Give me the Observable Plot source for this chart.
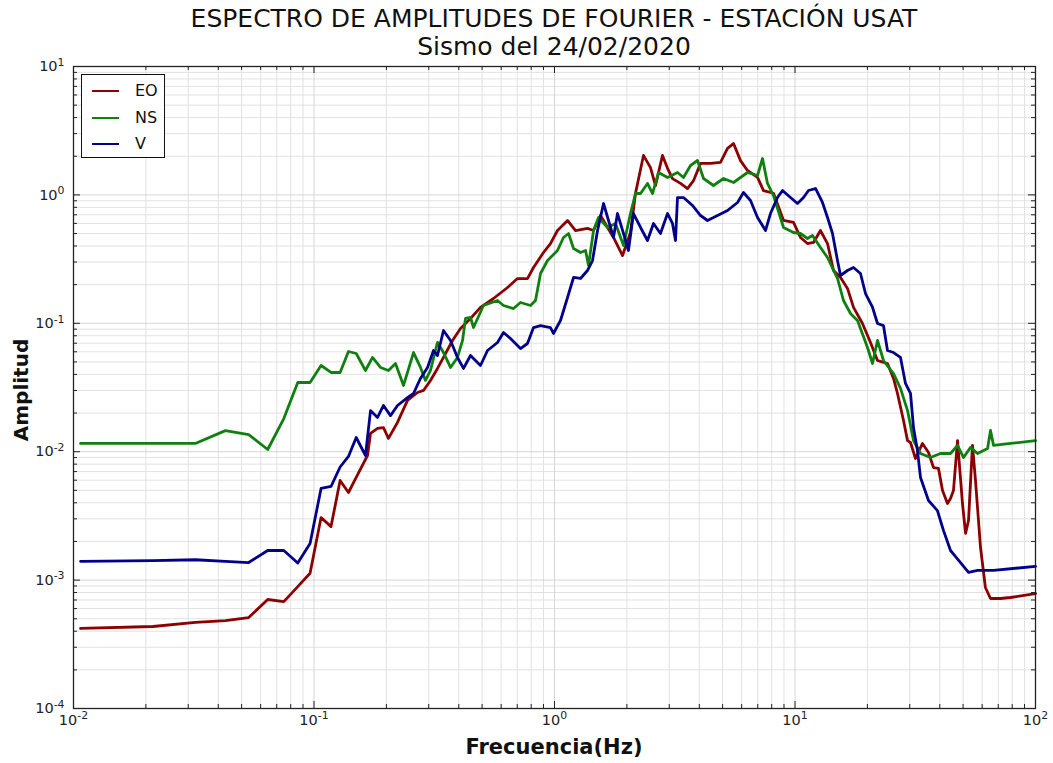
<!DOCTYPE html>
<html><head><meta charset="utf-8">
<script src="https://cdn.jsdelivr.net/npm/d3@7"></script>
<script src="https://cdn.jsdelivr.net/npm/@observablehq/plot@0.6"></script>
<style>
body{margin:0;background:#fff;font-family:"DejaVu Sans",sans-serif;}
#wrap{position:relative;width:1053px;height:763px;overflow:hidden;background:#fff;}
.title{position:absolute;left:73px;width:962px;text-align:center;font-size:25px;color:#111;line-height:28px;z-index:2;}
#chart{position:absolute;left:0;top:40px;z-index:1;}
#legend{position:absolute;left:81px;top:74px;width:84px;height:84px;border:1.3px solid #111;background:#fff;box-sizing:border-box;z-index:3;}
.li{position:absolute;left:10px;height:20px;font-size:16px;color:#111;}
.li span.sw{position:absolute;left:0;top:9px;width:27px;height:0;border-top:2.8px solid;}
.li span.tx{position:absolute;left:43px;top:0;line-height:20px;}
#xl{position:absolute;left:73px;width:962px;top:735px;text-align:center;font-weight:bold;font-size:21px;color:#111;z-index:2;}
#yl{position:absolute;left:21px;top:390px;transform:translate(-50%,-50%) rotate(-90deg);font-weight:bold;font-size:20px;color:#111;white-space:nowrap;z-index:2;}
</style></head><body>
<div id="wrap">
<div class="title" style="top:5px">ESPECTRO DE AMPLITUDES DE FOURIER - ESTACIÓN USAT</div>
<div class="title" style="top:33px">Sismo del 24/02/2020</div>
<div id="chart"></div>
<div id="legend"></div>
<div id="xl">Frecuencia(Hz)</div>
<div id="yl">Amplitud</div>
</div>
<script>
// ---- data (Hz, amplitude) ----
const eoFreq = [0.0107,0.0214,0.0321,0.0428,0.0535,0.0642,0.0749,0.0856,0.0963,0.107,0.1177,0.1284,0.1391,0.1498,
0.1669,0.1718,0.1837,0.1945,0.204,0.2224,0.2448,0.2694,0.2853,0.305,0.3262,0.3455,0.3767,0.4066,0.4474,
0.4923,0.5577,0.6377,0.7018,0.772,0.818,0.900,0.962,1.029,1.133,1.223,1.371,1.453,1.553,1.759,1.918,2.07,2.172,
2.344,2.507,2.63,2.812,2.951,3.094,3.342,3.573,3.784,4.047,4.453,4.9,5.241,5.551,5.935,6.346,6.985,7.396,
8.14,8.96,9.86,10.54,11.27,11.94,12.76,13.65,14.46,15.46,16.53,17.51,19.08,20.6,22.03,24.24,25.68,26.68,28.26,29.37,
30.22,31.7,33.89,35.9,37.65,39.5,41.06,43.06,44.32,45.6,47.4,49.7,51.2,52.66,54.7,56.3,59.06,61.9,65.0,71.5,78.7,100];
const eoAmp = [0.00042,0.000435,0.000468,0.000484,0.000511,0.000706,0.00068,0.00089,0.00113,0.00307,0.00261,0.00597,0.00481,0.0063,
0.00934,0.0139,0.0152,0.0154,0.0127,0.0169,0.0251,0.0289,0.0300,0.0359,0.0445,0.0542,0.0735,0.0911,0.109,
0.133,0.156,0.190,0.223,0.223,0.272,0.356,0.418,0.528,0.632,0.528,0.548,0.528,0.691,0.466,0.337,0.510,1.03,
2.03,1.63,1.18,2.03,1.61,1.34,1.23,1.12,1.29,1.76,1.76,1.79,2.30,2.51,1.85,1.55,1.37,1.08,
1.03,0.632,0.61,0.466,0.418,0.426,0.528,0.418,0.258,0.227,0.187,0.133,0.0996,0.0709,0.0513,0.0486,0.0372,0.0284,0.0175,0.0122,
0.0118,0.00885,0.0116,0.00986,0.00753,0.0074,0.00499,0.00395,0.00432,0.00499,0.0122,0.00395,0.00231,0.00291,0.0112,0.00597,0.0018,0.000876,0.000719,0.000719,0.000732,0.000786];

const nsFreq = [0.0107,0.0214,0.0321,0.0428,0.0535,0.0642,0.0749,0.0856,0.0963,0.107,0.1177,0.1284,0.1391,0.1498,
0.1637,0.1751,0.189,0.204,0.2182,0.2356,0.2593,0.2772,0.2908,0.305,0.3262,0.3455,0.3695,0.395,0.4146,0.4266,0.4474,0.4605,
0.5068,0.5794,0.6137,0.6753,0.7221,0.7947,0.8337,0.8748,0.9354,1.029,1.09,1.144,1.2,1.283,1.346,1.385,1.453,1.524,1.661,1.793,1.936,
2.07,2.172,2.279,2.436,2.556,2.706,2.951,3.247,3.439,3.677,3.932,4.165,4.582,5.044,5.551,6.346,6.985,7.326,7.685,
8.14,8.96,9.86,10.54,11.27,11.82,12.76,13.65,15.02,15.91,17.01,18.19,20.02,21.0,22.03,23.33,25.68,27.46,29.37,
31.1,33.25,36.6,40.27,44.32,47.4,50.2,53.7,57.4,63.2,65.0,66.9,78.7,100];
const nsAmp = [0.0116,0.0116,0.0116,0.0146,0.0136,0.0104,0.0181,0.0346,0.0346,0.0469,0.0414,0.0414,0.0603,0.0582,
0.0429,0.0542,0.0453,0.0429,0.0486,0.0328,0.0592,0.0453,0.0359,0.0429,0.0709,0.0592,0.0453,0.0542,0.0735,0.109,0.111,0.0927,
0.1376,0.1505,0.1376,0.1303,0.1452,0.1376,0.1505,0.2443,0.3083,0.369,0.466,0.5005,0.3825,0.356,0.369,0.282,0.528,0.667,0.5575,0.599,0.4036,
0.716,1.025,1.025,1.227,1.025,1.494,1.366,1.494,1.366,1.694,1.853,1.342,1.184,1.342,1.249,1.494,1.416,1.921,1.227,
0.989,0.5575,0.5096,0.5005,0.4575,0.483,0.3894,0.3254,0.2234,0.1505,0.1192,0.1052,0.0648,0.0486,0.0735,0.0513,0.0406,0.0311,0.0209,
0.01223,0.00968,0.00901,0.00968,0.00968,0.0112,0.009,0.0108,0.00968,0.0106,0.01463,0.0112,0.0116,0.0122];

const vFreq = [0.0107,0.0214,0.0321,0.0428,0.0535,0.0642,0.0749,0.0856,0.0963,0.107,0.1177,0.1284,0.1391,0.1498,
0.1637,0.1718,0.1837,0.1945,0.208,0.2224,0.2448,0.2593,0.2772,0.2965,0.314,0.3262,0.3455,0.3695,0.395,0.4184,0.4474,
0.4923,0.5266,0.5794,0.6137,0.6561,0.7221,0.772,0.818,0.8748,0.962,0.99,1.059,1.133,1.2,1.283,1.371,1.439,1.51,1.599,1.677,1.759,1.828,1.936,
2.03,2.13,2.279,2.436,2.58,2.758,2.951,3.094,3.185,3.247,3.439,3.748,4.047,4.327,4.763,5.241,5.768,6.107,6.531,6.985,7.54,7.907,
8.455,8.872,9.58,10.24,10.85,11.38,12.17,13.01,13.65,14.32,15.02,15.46,16.53,17.51,18.72,19.64,21.0,22.03,23.33,24.24,25.68,27.46,28.8,
30.22,31.1,32.3,33.25,35.9,39.1,41.46,44.32,48.78,52.66,57.4,66.9,100];
const vAmp = [0.0014,0.00142,0.00144,0.0014,0.00137,0.0017,0.0017,0.00136,0.00193,0.00517,0.00536,0.0076,0.00918,0.0129,
0.00934,0.0209,0.0185,0.0229,0.0191,0.0229,0.0264,0.0284,0.0372,0.0453,0.0614,0.0561,0.0879,0.0735,0.0542,0.0445,0.0561,
0.0469,0.0614,0.0709,0.0848,0.0761,0.0636,0.0696,0.0927,0.096,0.0927,0.0833,0.1052,0.1589,0.2274,0.2234,0.2577,0.3083,0.528,0.857,0.632,0.466,0.716,0.5005,
0.369,0.716,0.5575,0.4415,0.599,0.5005,0.716,0.599,0.4415,0.954,0.954,0.827,0.691,0.632,0.691,0.756,0.873,1.044,0.904,0.667,0.528,0.716,
0.954,1.082,0.954,0.857,0.954,1.082,1.122,0.873,0.667,0.5005,0.3083,0.2357,0.2577,0.272,0.2443,0.1706,0.1334,0.0996,0.096,0.0614,0.0592,0.0542,0.034,
0.0284,0.0154,0.0102,0.0063,0.00417,0.00348,0.00243,0.0017,0.00137,0.00115,0.00119,0.00119,0.00128];

const seriesNames = ["EO","NS","V"];
const seriesColors = ["#8b0000","#0f800f","#00008b"];
const xMajor = [0.01,0.1,1,10,100];
const yMajor = [1e-4,1e-3,1e-2,1e-1,1,10];

const zip = (fs, as, name) => fs.map((f,i)=>({f, a: as[i], s: name}));
const rows = [zip(eoFreq,eoAmp,"EO"), zip(nsFreq,nsAmp,"NS"), zip(vFreq,vAmp,"V")];

// minor tick / grid positions (2..9 within each decade)
const minorOf = (majors) => { const out=[]; for (let i=0;i<majors.length-1;i++) for (let m=2;m<=9;m++) out.push(majors[i]*m); return out; };
const xMinor = minorOf(xMajor), yMinor = minorOf(yMajor);

const W=1053, H=723, mT=26, mB=55, mL=73, mR=18;
const pw = W-mL-mR, ph = H-mT-mB;
const fmt = d => "10|" + Math.round(Math.log10(d));

const plot = Plot.plot({
  width: W, height: H, marginTop: mT, marginBottom: mB, marginLeft: mL, marginRight: mR,
  x: {type: "log", domain: [0.01, 100]},
  y: {type: "log", domain: [1e-4, 10]},
  style: {fontFamily: "DejaVu Sans", fontSize: "14.5px", background: "transparent", color: "#222"},
  marks: [
    Plot.ruleX(xMinor, {x: d=>d, stroke: "#e2e2e2", strokeWidth: 1}),
    Plot.ruleY(yMinor, {y: d=>d, stroke: "#e2e2e2", strokeWidth: 1}),
    Plot.ruleX(xMajor, {x: d=>d, stroke: "#d6d6d6", strokeWidth: 1}),
    Plot.ruleY(yMajor, {y: d=>d, stroke: "#d6d6d6", strokeWidth: 1}),
    ...rows.map((r,i)=>Plot.line(r, {x: "f", y: "a", stroke: seriesColors[i], strokeWidth: 2.8, strokeLinejoin: "round"})),
    // inward ticks on all four sides
    Plot.tickX(xMajor, {x: d=>d, insetTop: ph-7, stroke: "#222"}),
    Plot.tickX(xMajor, {x: d=>d, insetBottom: ph-7, stroke: "#222"}),
    Plot.tickX(xMinor, {x: d=>d, insetTop: ph-4, stroke: "#222"}),
    Plot.tickX(xMinor, {x: d=>d, insetBottom: ph-4, stroke: "#222"}),
    Plot.tickY(yMajor, {y: d=>d, insetRight: pw-7, stroke: "#222"}),
    Plot.tickY(yMajor, {y: d=>d, insetLeft: pw-7, stroke: "#222"}),
    Plot.tickY(yMinor, {y: d=>d, insetRight: pw-4, stroke: "#222"}),
    Plot.tickY(yMinor, {y: d=>d, insetLeft: pw-4, stroke: "#222"}),
    Plot.axisX({ticks: xMajor, tickSize: 0, tickPadding: 6, tickFormat: fmt, label: null}),
    Plot.axisY({ticks: yMajor, tickSize: 0, tickPadding: 9, tickFormat: fmt, label: null}),
    Plot.frame({stroke: "#222", strokeWidth: 1.3})
  ]
});
document.getElementById("chart").appendChild(plot);

// render "10|e" as 10 with a superscript exponent
d3.select(plot).selectAll('g[aria-label="x-axis tick label"] text, g[aria-label="y-axis tick label"] text').each(function(){
  const t = this.textContent;
  if (!t.includes("|")) return;
  const [b, e] = t.split("|");
  const sel = d3.select(this);
  sel.text(null);
  sel.append("tspan").text(b);
  sel.append("tspan").attr("dy", "-0.5em").attr("font-size", "0.75em").text(e);
});

// legend
const lg = document.getElementById("legend");
seriesNames.forEach((n,i)=>{
  const d = document.createElement("div");
  d.className = "li";
  d.style.top = (6 + i*26.5) + "px";
  d.innerHTML = `<span class="sw" style="border-color:${seriesColors[i]}"></span><span class="tx">${n}</span>`;
  lg.appendChild(d);
});
</script>
</body></html>
